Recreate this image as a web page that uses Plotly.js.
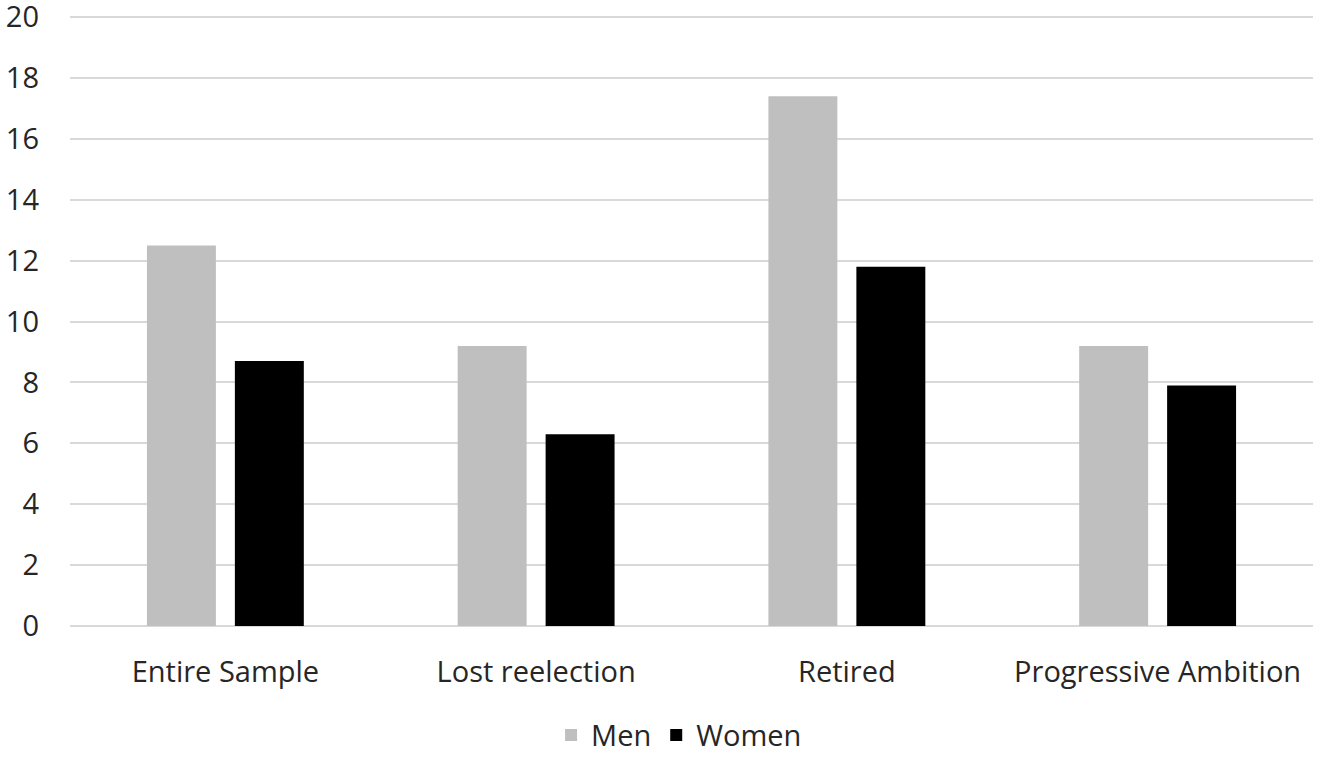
<!DOCTYPE html>
<html><head><meta charset="utf-8">
<script src="https://cdn.plot.ly/plotly-3.0.1.min.js"></script>
<style>html,body{margin:0;padding:0;background:#fff;}</style>
</head><body>
<div id="chart" style="width:1320px;height:758px;"></div>
<script>
const categories = ["Entire Sample", "Lost reelection", "Retired", "Progressive Ambition"];
const menValues = [12.5, 9.2, 17.4, 9.2];
const womenValues = [8.7, 6.3, 11.8, 7.9];
const yTicks = [0, 2, 4, 6, 8, 10, 12, 14, 16, 18, 20];

const font = {family: "'Open Sans', Lato, sans-serif", size: 29, color: "#262626"};
const traces = [
  {type: "bar", name: "Men", x: categories, y: menValues, marker: {color: "#bfbfbf"}},
  {type: "bar", name: "Women", x: categories, y: womenValues, marker: {color: "#000000"}}
];
const layout = {
  width: 1320, height: 758,
  margin: {l: 70, r: 7, t: 14, b: 132, autoexpand: false},
  paper_bgcolor: "#ffffff", plot_bgcolor: "#ffffff",
  font: font,
  barmode: "group", bargap: 0.434, bargroupgap: 0.216,
  showlegend: true,
  legend: {orientation: "h", x: 0.49, xanchor: "center", y: -0.22, yanchor: "bottom", font: font, itemwidth: 30, traceorder: "normal"},
  xaxis: {showgrid: false, zeroline: false, showline: false, ticks: "", tickfont: font, ticklabelstandoff: 26, automargin: false},
  yaxis: {range: [0, 20.1], tickvals: yTicks, ticktext: yTicks.map(String), showgrid: true, gridcolor: "#d9d9d9", gridwidth: 2, zeroline: true, zerolinecolor: "#d9d9d9", zerolinewidth: 2, showline: false, ticks: "", ticklabelstandoff: 30, ticklabeloverflow: "allow", tickfont: font, automargin: false}
};
Plotly.newPlot("chart", traces, layout, {displayModeBar: false, staticPlot: true});
</script>
</body></html>
